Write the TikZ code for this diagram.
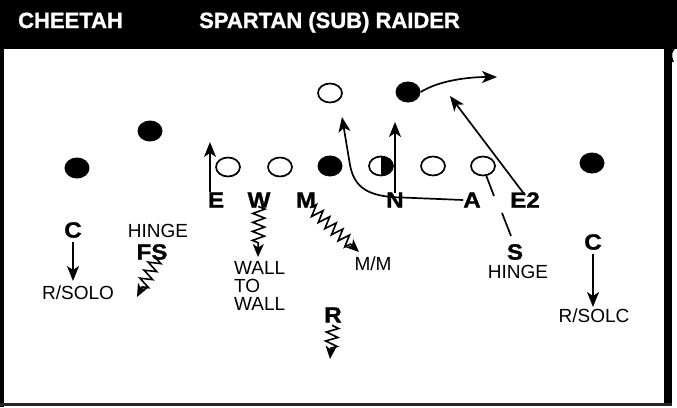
\documentclass[tikz,border=0pt]{standalone}
\usepackage{fontspec}
\setmainfont{Liberation Sans}
\newfontfamily\heavy[UprightFont={* Bold},FakeStretch=1.1,FakeBold=1.2]{Liberation Sans}
\newfontfamily\heavyhdr[UprightFont={* Bold},FakeBold=1.2]{Liberation Sans}
\usetikzlibrary{shapes.geometric,arrows.meta,decorations.pathmorphing,calc}
\begin{document}
\begin{tikzpicture}[x=1pt,y=-1pt,
  open/.style={ellipse,draw,line width=1.7pt,minimum width=24pt,minimum height=19pt,inner sep=0pt,fill=white},
  dfill/.style={ellipse,fill=black,minimum width=25pt,minimum height=21pt,inner sep=0pt},
  half/.style={open,path picture={\fill[black] (path picture bounding box.north) rectangle (path picture bounding box.south east);\draw[black,line width=1pt] (path picture bounding box.north)--(path picture bounding box.south);}},
  blbl/.style={font=\heavy\fontsize{22}{22}\selectfont,inner sep=0pt},
  nlbl/.style={font=\fontsize{19}{19}\selectfont,inner sep=0pt},
  hdr/.style={font=\heavyhdr\fontsize{22}{22}\selectfont,text=white,inner sep=0pt,anchor=base west},
  arr/.style={line width=1.7pt,-{Stealth[length=15pt,width=12pt,inset=4pt]}},
  ln/.style={line width=1.7pt},
  zz/.style={line width=1.6pt,decorate,decoration={zigzag,segment length=9pt,amplitude=6pt,pre length=1pt,post length=10pt},-{Stealth[length=13pt,width=11pt,inset=3.5pt]}}
]
\useasboundingbox (0,0) rectangle (677,407);
% frame
\fill[black] (0,0) rectangle (677,49);
\fill[black] (0,0) rectangle (4,407);
\fill[black] (664,0) rectangle (672,405);
\fill[black!85] (0,403) rectangle (672,405.5);
\draw[line width=1.6pt] (677,46.5) .. controls (671,49) and (670,56) .. (673,62);
% header
\node[hdr] (t1) at (18,28) {CHEETAH};
\node[hdr] (t2) at (199,28) {SPARTAN (SUB) RAIDER};
% defense dots
\node[dfill] (d1) at (77,168) {};
\node[dfill] (d2) at (150,131) {};
\node[dfill] (d3) at (592,163) {};
\node[dfill] (b2) at (408,92) {};
% offense
\node[open] (b1) at (330,93) {};
\node[open] (o1) at (228,167) {};
\node[open] (o2) at (280,167) {};
\node[dfill] (o3) at (330,166) {};
\node[half] (o4) at (381,166) {};
\node[open] (o5) at (433,166) {};
\node[open] (o6) at (483,166) {};
% line labels
\node[blbl] (E) at (216,200) {E};
\node[blbl] (W) at (259,200) {W};
\node[blbl] (M) at (306,200) {M};
\node[blbl] (N) at (395,200) {N};
\node[blbl] (A) at (472,200) {A};
\node[blbl] (E2) at (525,200) {E2};
% other labels
\node[blbl] (CL) at (73,230) {C};
\node[nlbl] (H1) at (158,231) {HINGE};
\node[blbl] (FS) at (152,252) {FS};
\node[nlbl] (RS1) at (78,293) {R/SOLO};
\node[nlbl,anchor=west] (WA1) at (234,268) {WALL};
\node[nlbl,anchor=west] (TO) at (234,286) {TO};
\node[nlbl,anchor=west] (WA2) at (234,304) {WALL};
\node[nlbl] (MM) at (373,264) {M/M};
\node[blbl] (S) at (515,252) {S};
\node[nlbl] (H2) at (518,272) {HINGE};
\node[blbl] (CR) at (593,242) {C};
\node[nlbl] (RS2) at (594,316) {R/SOLC};
\node[blbl] (R) at (333,315) {R};
% free ends
\coordinate (eT) at (210,142);
\coordinate (nT) at (395,122);
\coordinate (aT) at (342,117);
\coordinate (e2T) at (450,96);
\coordinate (bT) at (497,77);
\coordinate (g1) at (494,196);
\coordinate (g2) at (502,213);
\coordinate (sT) at (511,236);
\coordinate (wT) at (258,257);
\coordinate (mT) at (359,252);
\coordinate (fT) at (137,297);
\coordinate (rT) at (330,359);
% arrows
\draw[arr] ([xshift=-6pt]E.north) -- (eT);
\draw[arr] ([yshift=-1pt]N.north) -- (nT);
\draw[arr] (A.west) -- (402,197.5) .. controls (366,197) and (354,186) .. (350,165) -- (aT);
\draw[arr] ([yshift=-3pt]E2.north) -- (e2T);
\draw[arr] (b2.east) .. controls (440,80) and (470,77) .. (bT);
\draw[ln] ($(o6.center)+(3,9)$) -- (g1) (g2) -- (sT);
\draw[arr] ([yshift=-4pt]CL.south) -- (CL.south |- 0,281);
\draw[arr] ([yshift=-4pt]CR.south) -- (CR.south |- 0,307);
% zigzags
\draw[zz] ([yshift=2pt]W.south) -- (wT);
\draw[zz] ([xshift=4pt,yshift=1pt]M.south) -- (mT);
\draw[zz] ([xshift=5pt,yshift=2pt]FS.south) -- (fT);
\draw[zz] ([yshift=-2pt]R.south) -- (rT);
\end{tikzpicture}
\end{document}
